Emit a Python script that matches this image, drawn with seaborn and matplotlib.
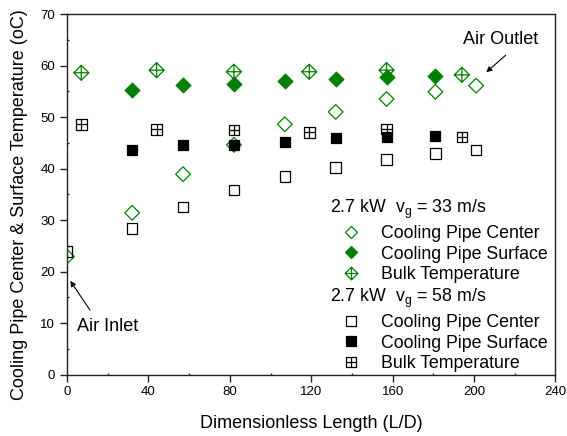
import numpy as np
import matplotlib
matplotlib.use("Agg")
import matplotlib.pyplot as plt
from matplotlib.path import Path
from matplotlib.lines import Line2D
from matplotlib.ticker import MultipleLocator
import seaborn as sns

# Axial positions (L/D) of the probes
x_pipe = [0, 32, 57, 82, 107, 132, 157, 181, 201]
x_surface = [32, 57, 82, 107, 132, 157, 181]
x_bulk = [7, 44, 82, 119, 157, 194]

# 2.7 kW, v_g = 33 m/s
center_33 = [22.9, 31.4, 38.9, 44.6, 48.6, 51.0, 53.5, 54.9, 56.1]
surface_33 = [55.2, 56.2, 56.5, 57.0, 57.3, 57.7, 58.0]
bulk_33 = [58.6, 59.1, 58.8, 58.8, 59.1, 58.2]

# 2.7 kW, v_g = 58 m/s
center_58 = [23.9, 28.3, 32.5, 35.8, 38.4, 40.2, 41.8, 42.9, 43.6]
surface_58 = [43.6, 44.6, 44.6, 45.1, 45.9, 46.2, 46.3]
bulk_58 = [48.6, 47.6, 47.5, 47.0, 47.7, 46.1]

x_ticks = [0, 40, 80, 120, 160, 200, 240]
y_ticks = [0, 10, 20, 30, 40, 50, 60, 70]

GREEN = "#008000"
BLACK = "#000000"

sns.set_theme(style="ticks")
plt.rcParams["font.family"] = ["Liberation Sans", "DejaVu Sans"]
plt.rcParams["mathtext.default"] = "regular"
plt.rcParams["text.color"] = "black"
plt.rcParams["axes.labelcolor"] = "black"
plt.rcParams["xtick.color"] = "black"
plt.rcParams["ytick.color"] = "black"

# Marker shapes for the bulk temperature: outline with a cross through it
M, L, C = Path.MOVETO, Path.LINETO, Path.CLOSEPOLY
diamond_cross = Path(
    [(0, 1), (1, 0), (0, -1), (-1, 0), (0, 1), (0, 1), (0, -1), (-1, 0), (1, 0)],
    [M, L, L, L, C, M, L, M, L],
)
square_cross = Path(
    [(-1, -1), (1, -1), (1, 1), (-1, 1), (-1, -1), (0, -1), (0, 1), (-1, 0), (1, 0)],
    [M, L, L, L, C, M, L, M, L],
)

fig = plt.figure(figsize=(5.67, 4.36), dpi=100)
ax = fig.add_axes([0.1182, 0.141, 0.8615, 0.8268])

lw = 0.9
# v_g = 33 m/s (green)
sns.scatterplot(x=x_pipe, y=center_33, marker="D", s=56, color=GREEN,
                facecolor="none", edgecolor=GREEN, linewidth=lw, ax=ax, zorder=3)
sns.scatterplot(x=x_surface, y=surface_33, marker="D", s=56, color=GREEN,
                edgecolor=GREEN, linewidth=lw, ax=ax, zorder=3)
sns.scatterplot(x=x_bulk, y=bulk_33, marker=diamond_cross, s=117, color=GREEN,
                facecolor="none", edgecolor=GREEN, linewidth=lw, ax=ax, zorder=3)
# v_g = 58 m/s (black)
sns.scatterplot(x=x_pipe, y=center_58, marker="s", s=58, color=BLACK,
                facecolor="none", edgecolor=BLACK, linewidth=lw, ax=ax, zorder=4)
sns.scatterplot(x=x_surface, y=surface_58, marker="s", s=58, color=BLACK,
                edgecolor=BLACK, linewidth=lw, ax=ax, zorder=4)
sns.scatterplot(x=x_bulk, y=bulk_58, marker=square_cross, s=58, color=BLACK,
                facecolor="none", edgecolor=BLACK, linewidth=lw, ax=ax, zorder=4)

ax.set_xlim(0, 240)
ax.set_ylim(0, 70)
ax.set_xticks(x_ticks)
ax.set_yticks(y_ticks)
ax.xaxis.set_minor_locator(MultipleLocator(20))
ax.yaxis.set_minor_locator(MultipleLocator(5))
ax.tick_params(which="major", direction="out", length=5, width=1.0,
               labelsize=9.5, pad=3.5, colors="#222222", labelcolor="black")
ax.tick_params(which="minor", direction="in", length=1.5, width=1.0, colors="#222222")
ax.tick_params(top=False, right=False, which="both")
for sp in ax.spines.values():
    sp.set_linewidth(1.0)
    sp.set_color("#222222")
    sp.set_visible(True)

ax.set_xlabel("Dimensionless Length (L/D)", fontsize=13, labelpad=12)
ax.set_ylabel("Cooling Pipe Center & Surface Temperature (oC)", fontsize=13, labelpad=9)
ax.yaxis.label.set_y(0.47)

# Inlet / outlet annotations
ax.annotate("", xy=(206, 58.7), xytext=(215.5, 62.0),
            arrowprops=dict(arrowstyle="-|>", color="black", lw=0.8,
                            mutation_scale=8, shrinkA=0, shrinkB=0))
ax.text(212.8, 65.1, "Air Outlet", fontsize=13, ha="center", va="center")
ax.annotate("", xy=(1.6, 18.2), xytext=(11.3, 12.5),
            arrowprops=dict(arrowstyle="-|>", color="black", lw=0.8,
                            mutation_scale=8, shrinkA=0, shrinkB=0))
ax.text(5.0, 9.4, "Air Inlet", fontsize=13, ha="left", va="center")

# Legend with a header row for each operating condition
blank = Line2D([], [], linestyle="none", marker=None)
handles = [
    blank,
    Line2D([], [], linestyle="none", marker="D", markersize=6.5, mfc="none", mec=GREEN, mew=lw),
    Line2D([], [], linestyle="none", marker="D", markersize=6.5, mfc=GREEN, mec=GREEN, mew=lw),
    Line2D([], [], linestyle="none", marker=diamond_cross, markersize=9.1, mfc="none", mec=GREEN, mew=lw),
    blank,
    Line2D([], [], linestyle="none", marker="s", markersize=6.7, mfc="none", mec=BLACK, mew=lw),
    Line2D([], [], linestyle="none", marker="s", markersize=6.7, mfc=BLACK, mec=BLACK, mew=lw),
    Line2D([], [], linestyle="none", marker=square_cross, markersize=6.7, mfc="none", mec=BLACK, mew=lw),
]
labels = [
    "2.7 kW  $v_g$ = 33 m/s",
    "Cooling Pipe Center",
    "Cooling Pipe Surface",
    "Bulk Temperature",
    "2.7 kW  $v_g$ = 58 m/s",
    "Cooling Pipe Center",
    "Cooling Pipe Surface",
    "Bulk Temperature",
]
leg = ax.legend(handles=handles, labels=labels, loc="upper left",
                bbox_to_anchor=(0.538, 0.49), frameon=False, fontsize=12.8,
                handlelength=2.36, handletextpad=0.5, labelspacing=0.21,
                borderpad=0, borderaxespad=0, numpoints=1)
# header rows start at the left edge of the key column
rows = leg._legend_handle_box.get_children()[0].get_children()
for i in (0, 4):
    rows[i]._children = [rows[i]._children[1]]

fig.savefig("out.png", dpi=100)
